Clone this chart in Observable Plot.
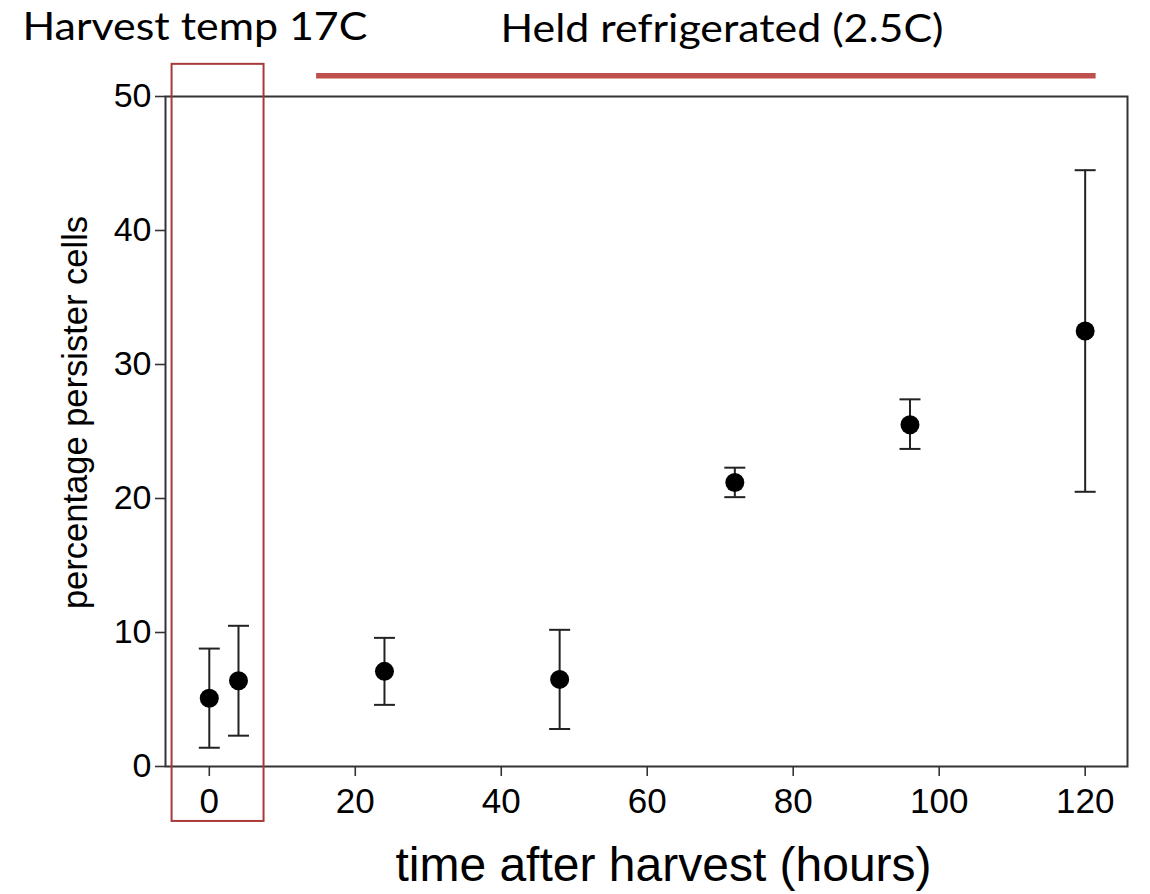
<!DOCTYPE html>
<html>
<head>
<meta charset="utf-8">
<script src="https://cdn.jsdelivr.net/npm/d3@7"></script>
<script src="https://cdn.jsdelivr.net/npm/@observablehq/plot@0.6"></script>
<style>
  html, body { margin: 0; padding: 0; background: #fff; }
  #chart { width: 1150px; height: 894px; }
  #chart svg { font-family: "Liberation Sans", Arial, sans-serif; }
</style>
</head>
<body>
<div id="chart"></div>
<script>
// ---- data ----
const hours = [0, 4, 24, 48, 72, 96, 120];
const meanPct = [5.1, 6.4, 7.1, 6.5, 21.2, 25.5, 32.5];
const lowPct = [1.4, 2.3, 4.6, 2.8, 20.1, 23.7, 20.5];
const highPct = [8.8, 10.5, 9.6, 10.2, 22.3, 27.4, 44.5];
const xTicks = [0, 20, 40, 60, 80, 100, 120];
const yTicks = [0, 10, 20, 30, 40, 50];
const xLabel = "time after harvest (hours)";
const yLabel = "percentage persister cells";
// annotations (in data units)
const harvestBox = [{x1: -5.1, x2: 7.5, y1: -4.1, y2: 52.4}];
const refrigLine = [{x1: 14.7, x2: 121.5, y: 51.55}];
const noteTexts = [
  {x: -25.6, y: 54.2, text: "Harvest temp 17C", len: 345},
  {x: 39.9, y: 54.05, text: "Held refrigerated (2.5C)", len: 443}
];

const data = hours.map((h, i) => ({x: h, y: meanPct[i], lo: lowPct[i], hi: highPct[i]}));

const capSymbol = {
  draw(ctx, size) {
    const r = Math.sqrt(size / Math.PI);
    ctx.moveTo(-r, 0);
    ctx.lineTo(r, 0);
  }
};

const sans = "Liberation Sans";

const chart = Plot.plot({
  width: 1150,
  height: 894,
  marginLeft: 165,
  marginRight: 23,
  marginTop: 96,
  marginBottom: 128,
  style: {background: "#fff", color: "#000", overflow: "visible"},
  x: {domain: [-6, 125.8]},
  y: {domain: [0, 50]},
  marks: [
    Plot.axisX({ticks: xTicks, tickSize: 10, tickPadding: 12, fontSize: 35, fontFamily: sans, label: null, stroke: "#333", strokeWidth: 1.6, fill: "#000"}),
    Plot.axisY({ticks: yTicks, tickSize: 10, tickPadding: 4, fontSize: 34, fontFamily: sans, label: null, stroke: "#333", strokeWidth: 1.6, fill: "#000"}),
    Plot.frame({stroke: "#333", strokeWidth: 2}),
    Plot.ruleX(data, {x: "x", y1: "lo", y2: "hi", stroke: "#222", strokeWidth: 2}),
    Plot.dot(data, {x: "x", y: "lo", symbol: capSymbol, r: 10.5, stroke: "#222", strokeWidth: 2, fill: "none"}),
    Plot.dot(data, {x: "x", y: "hi", symbol: capSymbol, r: 10.5, stroke: "#222", strokeWidth: 2, fill: "none"}),
    Plot.dot(data, {x: "x", y: "y", r: 9.5, fill: "#000", stroke: "none"}),
    Plot.rect(harvestBox, {x1: "x1", x2: "x2", y1: "y1", y2: "y2", fill: "none", stroke: "#a8393a", strokeWidth: 2, clip: false}),
    Plot.ruleY(refrigLine, {x1: "x1", x2: "x2", y: "y", stroke: "#c0504d", strokeWidth: 5.5, clip: false}),
    Plot.text(noteTexts, {x: "x", y: "y", text: "text", textAnchor: "start", lineAnchor: "bottom", fontSize: 38, fontFamily: "Lato", fill: "#000", className: "note"}),
    Plot.text([xLabel], {frameAnchor: "bottom", dx: 17, dy: 114, lineAnchor: "bottom", fontSize: 48, fontFamily: sans, fill: "#000"}),
    Plot.text([yLabel], {frameAnchor: "left", dx: -90, dy: -19, rotate: -90, lineAnchor: "middle", textAnchor: "middle", fontSize: 34.5, fontFamily: sans, fill: "#000"})
  ]
});
document.getElementById("chart").appendChild(chart);
// stretch annotation texts to their measured widths
chart.querySelectorAll("g.note text").forEach((t, i) => {
  t.setAttribute("textLength", noteTexts[i].len);
  t.setAttribute("lengthAdjust", "spacingAndGlyphs");
});
</script>
</body>
</html>
